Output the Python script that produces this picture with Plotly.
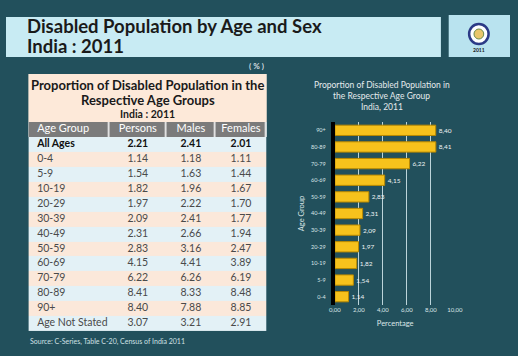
import plotly.graph_objects as go

W, H = 518, 356

# ---------------- data ----------------
table_groups = ["All Ages", "0-4", "5-9", "10-19", "20-29", "30-39", "40-49",
                "50-59", "60-69", "70-79", "80-89", "90+", "Age Not Stated"]
persons = ["2.21", "1.14", "1.54", "1.82", "1.97", "2.09", "2.31", "2.83",
           "4.15", "6.22", "8.41", "8.40", "3.07"]
males = ["2.41", "1.18", "1.63", "1.96", "2.22", "2.41", "2.66", "3.16",
         "4.41", "6.26", "8.33", "7.88", "3.21"]
females = ["2.01", "1.11", "1.44", "1.67", "1.70", "1.77", "1.94", "2.47",
           "3.89", "6.19", "8.48", "8.85", "2.91"]
header_labels = ["Age Group", "Persons", "Males", "Females"]

chart_groups = ["0-4", "5-9", "10-19", "20-29", "30-39", "40-49", "50-59",
                "60-69", "70-79", "80-89", "90+"]
chart_values = [1.14, 1.54, 1.82, 1.97, 2.09, 2.31, 2.83, 4.15, 6.22, 8.41, 8.40]
x_ticks = [0, 2, 4, 6, 8, 10]

# ---------------- layout helpers ----------------
def px(x):
    return x / W

def py(y):
    return 1 - y / H

BG = "#22505c"
FONT = "Lato"
BLUE = "#e3f1f6"
PEACH = "#fbe8da"
GREY = "#7b7b7b"

col_widths = [83, 59, 50, 53]
col_edges = [0]
for w_ in col_widths:
    col_edges.append(col_edges[-1] + w_)
n_rows = len(table_groups)
row_edges = list(range(n_rows + 1))

fig = go.Figure()

# ---- table: header (heatmap cells with gaps) ----
fig.add_trace(go.Heatmap(
    z=[[0] * 4], x=col_edges, y=[0, 1],
    colorscale=[[0, GREY], [1, GREY]], showscale=False, xgap=1.5,
    hoverinfo="skip", xaxis="x3", yaxis="y3",
))
# ---- table: body cells ----
body_z = [[i % 2] * 4 for i in range(n_rows)]
fig.add_trace(go.Heatmap(
    z=body_z, x=col_edges, y=row_edges,
    colorscale=[[0, BLUE], [0.5, BLUE], [0.5, PEACH], [1, PEACH]],
    zmin=0, zmax=1, showscale=False, hoverinfo="skip",
    xaxis="x2", yaxis="y2",
))
# header text
fig.add_trace(go.Scatter(
    x=[col_edges[0] + 9] + [(col_edges[i] + col_edges[i + 1]) / 2 for i in range(1, 4)],
    y=[0.5] * 4, text=header_labels, mode="text",
    textposition=["middle right", "middle center", "middle center", "middle center"],
    textfont=dict(family=FONT, size=11, color="#ffffff"),
    hoverinfo="skip", xaxis="x3", yaxis="y3",
))
# body text
row_font = ["#111111" if i == 0 else "#4a4a4a" for i in range(n_rows)]
def fmt(v, i):
    return f"<b>{v}</b>" if i == 0 else v

fig.add_trace(go.Scatter(
    x=[col_edges[0] + 9] * n_rows, y=[i + 0.5 for i in range(n_rows)],
    text=[fmt(v, i) for i, v in enumerate(table_groups)], mode="text",
    textposition="middle right",
    textfont=dict(family=FONT, size=10.5, color=row_font),
    hoverinfo="skip", xaxis="x2", yaxis="y2",
))
for ci, col in enumerate([persons, males, females], start=1):
    fig.add_trace(go.Scatter(
        x=[(col_edges[ci] + col_edges[ci + 1]) / 2] * n_rows,
        y=[i + 0.5 for i in range(n_rows)],
        text=[fmt(v, i) for i, v in enumerate(col)], mode="text",
        textposition="middle center",
        textfont=dict(family=FONT, size=10.5, color=row_font),
        hoverinfo="skip", xaxis="x2", yaxis="y2",
    ))

# ---- bar chart ----
fig.add_trace(go.Bar(
    x=chart_values, y=chart_groups, orientation="h",
    marker=dict(color="#f6c21c", line=dict(color="#b98900", width=1)),
    text=chart_values, texttemplate="%{x:.2f}", textposition="outside",
    textfont=dict(family=FONT, size=6.5, color="#eef3f4"),
    cliponaxis=False, hoverinfo="skip",
    xaxis="x", yaxis="y",
))

hidden = dict(visible=False, fixedrange=True, showgrid=False, zeroline=False)
table_x = [px(23), px(268)]
row_px = 14.93
table_top = 122

fig.update_layout(
    width=W, height=H,
    margin=dict(l=0, r=0, t=0, b=0),
    paper_bgcolor=BG, plot_bgcolor="rgba(0,0,0,0)",
    separators=",.",
    showlegend=False,
    bargap=0.38,
    font=dict(family=FONT),
    xaxis=dict(
        domain=[px(338), px(462)], range=[0, 10.05],
        tickvals=x_ticks, tickformat=".2f",
        tickfont=dict(family=FONT, size=6, color="#dce6e8"),
        showgrid=True, gridcolor="#bcd4da", gridwidth=1,
        zeroline=False, showline=False, ticks="",
        title=dict(text="Percentage", font=dict(family=FONT, size=7.5, color="#dce6e8"), standoff=8),
    ),
    yaxis=dict(
        domain=[py(305), py(122)],
        categoryorder="array", categoryarray=chart_groups,
        tickfont=dict(family=FONT, size=5.5, color="#dce6e8"),
        showgrid=False, zeroline=False,
        showline=True, linecolor="#000000", linewidth=4,
        ticks="", ticklabelstandoff=4,
        title=dict(text="Age Group", font=dict(family=FONT, size=7.5, color="#dce6e8"), standoff=6),
    ),
    xaxis2=dict(domain=table_x, range=[col_edges[0], col_edges[-1]], anchor="y2", **hidden),
    yaxis2=dict(domain=[py(table_top + row_px * (n_rows + 1)), py(table_top + row_px)],
                range=[n_rows, 0], anchor="x2", **hidden),
    xaxis3=dict(domain=table_x, range=[col_edges[0], col_edges[-1]], anchor="y3", **hidden),
    yaxis3=dict(domain=[py(table_top + row_px), py(table_top)], range=[1, 0], anchor="x3", **hidden),
)

shapes = [
    # title bar
    dict(type="rect", xref="paper", yref="paper", x0=0, x1=px(447), y0=py(57), y1=py(17),
         fillcolor="#c8ebf3", line=dict(width=0), layer="below"),
    # logo box
    dict(type="rect", xref="paper", yref="paper", x0=px(455), x1=1, y0=py(57), y1=py(15),
         fillcolor="#b9e3ef", line=dict(width=0), layer="below"),
    dict(type="circle", xref="paper", yref="paper", x0=px(476), x1=px(496), y0=py(44), y1=py(24),
         fillcolor="#ffffff", line=dict(color="#2b3a86", width=2.5)),
    dict(type="circle", xref="paper", yref="paper", x0=px(481), x1=px(491), y0=py(39), y1=py(29),
         fillcolor="#e9c66a", line=dict(color="#6a8a4a", width=1)),
    # table title panel
    dict(type="rect", xref="paper", yref="paper", x0=px(23), x1=px(268), y0=py(122), y1=py(74),
         fillcolor="#fde9d9", line=dict(width=0), layer="below"),
    # white underlay for header separators
    dict(type="rect", xref="paper", yref="paper", x0=px(23), x1=px(268),
         y0=py(table_top + row_px), y1=py(table_top),
         fillcolor="#ffffff", line=dict(width=0), layer="below"),
]

annotations = [
    dict(text="<b>Disabled Population by Age and Sex</b>", x=px(20), y=py(26),
         xanchor="left", font=dict(family=FONT, size=18.5, color="#1a1a1a")),
    dict(text="<b>India : 2011</b>", x=px(20), y=py(46),
         xanchor="left", font=dict(family=FONT, size=18.5, color="#1a1a1a")),
    dict(text="<b>2011</b>", x=px(486), y=py(50), xanchor="center",
         font=dict(family=FONT, size=5, color="#1a1a1a")),
    dict(text="<b>( % )</b>", x=px(257), y=py(66), xanchor="center",
         font=dict(family=FONT, size=8, color="#d6dfe1")),
    dict(text="<b>Proportion of Disabled Population in the</b>", x=px(145.5), y=py(85),
         xanchor="center", font=dict(family=FONT, size=13, color="#1a1a1a")),
    dict(text="<b>Respective Age Groups</b>", x=px(145.5), y=py(99.5),
         xanchor="center", font=dict(family=FONT, size=13, color="#1a1a1a")),
    dict(text="<b>India : 2011</b>", x=px(145.5), y=py(114),
         xanchor="center", font=dict(family=FONT, size=10.5, color="#1a1a1a")),
    dict(text="Source: C-Series, Table C-20, Census of India 2011", x=px(23), y=py(341),
         xanchor="left", font=dict(family=FONT, size=7, color="#cfe0e4")),
    dict(text="Proportion of Disabled Population in", x=px(386), y=py(85),
         xanchor="center", font=dict(family=FONT, size=8.5, color="#e4eaec")),
    dict(text="the Respective Age Group", x=px(386), y=py(96),
         xanchor="center", font=dict(family=FONT, size=8.5, color="#e4eaec")),
    dict(text="India, 2011", x=px(386), y=py(107),
         xanchor="center", font=dict(family=FONT, size=8.5, color="#e4eaec")),
]
for a in annotations:
    a.setdefault("xref", "paper")
    a.setdefault("yref", "paper")
    a.setdefault("yanchor", "middle")
    a.setdefault("showarrow", False)

fig.update_layout(shapes=shapes, annotations=annotations)

fig.write_html(
    "out.html",
    config={"displayModeBar": False, "staticPlot": True},
    post_script="document.body.style.margin='0';document.body.style.overflow='hidden';",
)
